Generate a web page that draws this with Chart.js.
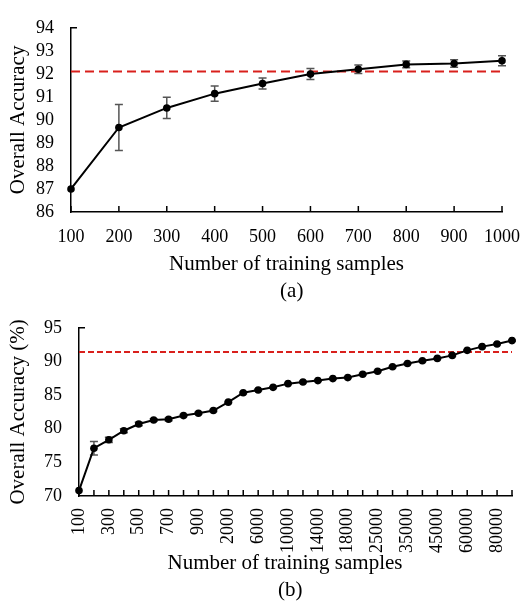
<!DOCTYPE html>
<html>
<head>
<meta charset="utf-8">
<script src="https://cdn.jsdelivr.net/npm/chart.js@4.4.0/dist/chart.umd.min.js"></script>
<style>
  body { margin: 0; background: #fff; }
  #wrap { position: relative; width: 524px; height: 605px; overflow: hidden; }
  canvas { position: absolute; left: 0; }
  #chart-a { top: 0; }
  #chart-b { top: 300px; }
</style>
</head>
<body>
<div id="wrap">
  <canvas id="chart-a" width="524" height="310"></canvas>
  <canvas id="chart-b" width="524" height="305"></canvas>
</div>
<script>
// (a) 100..1000 samples
const samplesA = ['100', '200', '300', '400', '500', '600', '700', '800', '900', '1000'];
const accuracyA = [87.0, 89.67, 90.52, 91.14, 91.58, 91.99, 92.2, 92.41, 92.45, 92.57];
const errorA = [0, 1.0, 0.46, 0.33, 0.24, 0.24, 0.18, 0.15, 0.16, 0.22];
const baselineA = 92.1;

// (b) 100..90000 samples
const samplesB = ['100', '200', '300', '400', '500', '600', '700', '800', '900', '1000',
  '2000', '4000', '6000', '8000', '10000', '12000', '14000', '16000', '18000', '20000',
  '25000', '30000', '35000', '40000', '45000', '50000', '60000', '70000', '80000', '90000'];
const accuracyB = [70.8, 77.1, 78.35, 79.7, 80.7, 81.3, 81.4, 81.95, 82.3, 82.7,
  83.95, 85.35, 85.75, 86.15, 86.7, 86.95, 87.15, 87.45, 87.6, 88.1,
  88.55, 89.2, 89.7, 90.1, 90.45, 90.9, 91.65, 92.2, 92.6, 93.1];
const errorB = [0, 1.0, 0.4, 0.3, 0.25, 0.2, 0.2, 0.15, 0.15, 0.15,
  0.1, 0.1, 0.1, 0.1, 0.1, 0.1, 0.1, 0.1, 0.1, 0.1,
  0.1, 0.1, 0.1, 0.1, 0.1, 0.1, 0.1, 0.1, 0.1, 0.1];
const baselineB = 91.4;

const SERIF = '"Liberation Serif", "Times New Roman", serif';

// error bars under the line + inward tick marks
const extrasPlugin = {
  id: 'extras',
  beforeDatasetsDraw(chart, args, opts) {
    const { ctx, scales: { x, y } } = chart;
    const vals = chart.data.datasets[0].data;
    ctx.save();
    ctx.strokeStyle = '#555';
    ctx.lineWidth = 1.5;
    opts.errors.forEach((e, i) => {
      if (!e) return;
      const px = x.getPixelForValue(i);
      const y1 = y.getPixelForValue(vals[i] + e);
      const y2 = y.getPixelForValue(vals[i] - e);
      ctx.beginPath();
      ctx.moveTo(px, y1); ctx.lineTo(px, y2);
      ctx.moveTo(px - opts.cap, y1); ctx.lineTo(px + opts.cap, y1);
      ctx.moveTo(px - opts.cap, y2); ctx.lineTo(px + opts.cap, y2);
      ctx.stroke();
    });
    ctx.restore();
  },
  afterDraw(chart) {
    const { ctx, scales: { x, y } } = chart;
    ctx.save();
    ctx.strokeStyle = '#000';
    ctx.lineWidth = 1.5;
    ctx.beginPath();
    x.ticks.forEach((t, i) => {
      const px = x.getPixelForTick(i);
      ctx.moveTo(px, x.top);
      ctx.lineTo(px, x.top - 6);
    });
    const top = y.getPixelForValue(y.max);
    ctx.moveTo(y.right, top);
    ctx.lineTo(y.right + 6, top);
    ctx.stroke();
    ctx.restore();
  }
};

function makeChart(id, o) {
  return new Chart(document.getElementById(id), {
    type: 'line',
    data: {
      labels: o.labels,
      datasets: [{
        data: o.values,
        borderColor: '#000',
        backgroundColor: '#000',
        borderWidth: 2,
        pointRadius: 3.8,
        pointBackgroundColor: '#000',
        pointBorderWidth: 0,
        tension: 0,
      }, {
        data: o.labels.map(() => o.baseline),
        borderColor: '#d9201c',
        borderWidth: 2,
        borderDash: o.dash,
        pointRadius: 0,
      }]
    },
    options: {
      responsive: false,
      animation: false,
      devicePixelRatio: 1,
      layout: { padding: o.padding },
      plugins: {
        legend: { display: false },
        tooltip: { enabled: false },
        extras: { errors: o.errors, cap: o.cap },
      },
      scales: {
        x: {
          offset: false,
          grid: { display: false, drawTicks: false },
          border: { color: '#000', width: 1.5 },
          afterFit: (s) => { s.height = o.xHeight; s.paddingLeft = 0; s.paddingRight = 0; },
          ticks: {
            color: '#000',
            font: { family: SERIF, size: 18 },
            padding: o.xTickPad,
            autoSkip: false,
            maxRotation: o.rotation,
            minRotation: o.rotation,
            callback: function (val, i) {
              return i % o.every === 0 ? this.getLabelForValue(val) : '';
            },
          },
          title: {
            display: true,
            text: o.xTitle,
            color: '#000',
            font: { family: SERIF, size: 21, lineHeight: 1.3 },
            padding: { top: 0, bottom: o.titlePad },
          }
        },
        y: {
          min: o.min, max: o.max,
          grid: { display: false, drawTicks: false },
          border: { color: '#000', width: 1.5 },
          afterFit: (s) => { s.width = o.yWidth; },
          ticks: {
            stepSize: o.step,
            autoSkip: false,
            color: '#000',
            font: { family: SERIF, size: 18 },
            padding: 17,
          },
          title: {
            display: true,
            text: o.yTitle,
            color: '#000',
            font: { family: SERIF, size: 21, lineHeight: 1.2 },
            padding: { top: 6, bottom: 0 },
          }
        }
      }
    },
    plugins: [extrasPlugin]
  });
}

makeChart('chart-a', {
  labels: samplesA, values: accuracyA, errors: errorA, baseline: baselineA,
  min: 86, max: 94, step: 1, yTitle: 'Overall Accuracy',
  xTitle: ['Number of training samples', '  (a)'],
  padding: { left: 0, right: 22, top: 10, bottom: 0 },
  xHeight: 98, yWidth: 71, xTickPad: 14, titlePad: 5, rotation: 0, every: 1,
  dash: [9, 5], cap: 4,
});

makeChart('chart-b', {
  labels: samplesB, values: accuracyB, errors: errorB, baseline: baselineB,
  min: 70, max: 95, step: 5, yTitle: 'Overall Accuracy (%)',
  xTitle: ['Number of training samples    ', '(b)  '],
  padding: { left: 0, right: 12, top: 13, bottom: 0 },
  xHeight: 109, yWidth: 79, xTickPad: 12, titlePad: 1, rotation: 90, every: 2,
  dash: [6, 3], cap: 4,
});
</script>
</body>
</html>
